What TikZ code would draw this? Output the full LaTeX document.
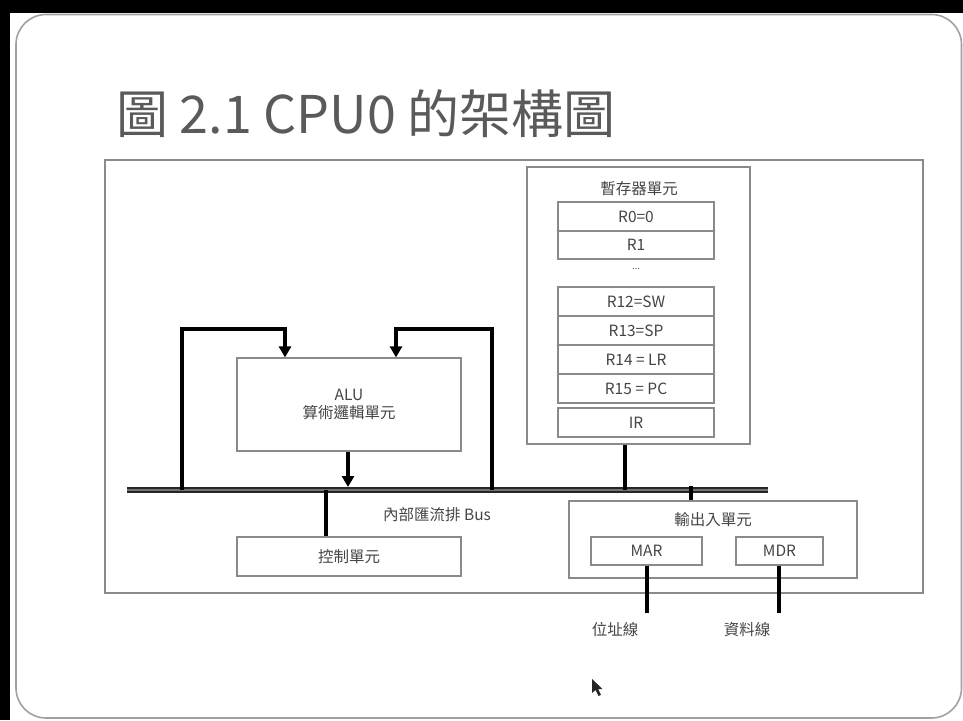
\documentclass[tikz,border=0pt]{standalone}
\usepackage{fontspec}
\setmainfont{Noto Sans CJK TC}
\usetikzlibrary{arrows.meta,calc}
\definecolor{frameg}{HTML}{8A8A8A}
\definecolor{textg}{HTML}{454545}
\definecolor{titleg}{HTML}{5A5A5A}
\tikzset{
  box/.style={draw=frameg, line width=1.2pt, inner sep=0pt, text=textg,
    font=\fontsize{15.5}{18}\selectfont, align=center},
  lbl/.style={inner sep=0pt, text=textg, font=\fontsize{15.5}{18}\selectfont, align=center},
  conn/.style={line width=3.4pt, black},
  tip/.style={-{Triangle[length=11pt,width=12pt]}},
}
\begin{document}
\begin{tikzpicture}[x=1pt,y=-1pt]
\useasboundingbox (0,0) rectangle (963,720);
% screen background and slide
\fill[black] (0,0) rectangle (963,720);
\fill[white] (10,13) rectangle (963,720);
\draw[frameg!80, line width=1.6pt, rounded corners=30pt] (16,14.5) rectangle (961.5,718);
% title
\node[anchor=west, inner sep=0pt, text=titleg, font=\fontsize{52}{56}\selectfont] (title) at (116,114) {圖 2.1 CPU0 的架構圖};
% outer frame
\node[box, minimum width=818pt, minimum height=433pt] (outer) at (514,376.5) {};
% register unit
\node[box, minimum width=223pt, minimum height=277pt] (reg) at (638.5,305.5) {};
\node[lbl] (regt) at (639,189) {暫存器單元};
\node[box, minimum width=156pt, minimum height=29pt] (r0) at (636,216.5) {R0=0};
\node[box, minimum width=156pt, minimum height=28pt] (r1) at (636,245) {R1};
\node[lbl, font=\fontsize{9}{10}\selectfont] (dots) at (636,269) {...};
\node[box, minimum width=156pt, minimum height=29pt] (r12) at (636,301.5) {R12=SW};
\node[box, minimum width=156pt, minimum height=29pt] (r13) at (636,330.5) {R13=SP};
\node[box, minimum width=156pt, minimum height=29pt] (r14) at (636,359.5) {R14 = LR};
\node[box, minimum width=156pt, minimum height=29pt] (r15) at (636,388.5) {R15 = PC};
\node[box, minimum width=156pt, minimum height=29pt] (ir) at (636,422.5) {IR};
% ALU
\node[box, minimum width=224pt, minimum height=93pt] (alu) at (349,404.5) {ALU\\[0pt]算術邏輯單元};
% control unit
\node[box, minimum width=224pt, minimum height=39pt] (ctrl) at (349,556.5) {控制單元};
% I/O unit
\node[box, minimum width=288pt, minimum height=77pt] (io) at (713,539.5) {};
\node[lbl] (iot) at (713,520) {輸出入單元};
\node[box, minimum width=111pt, minimum height=28pt] (mar) at (646.5,551) {MAR};
\node[box, minimum width=87pt, minimum height=28pt] (mdr) at (779.5,551) {MDR};
% bus
\coordinate (busL) at (127,490);
\coordinate (busR) at (768,490);
\draw[line width=2.6pt, draw=black!85, double=black!55, double distance=1.5pt] (busL) -- (busR);
\node[lbl] (busl) at (437,515) {內部匯流排 Bus};
% bus taps
\coordinate (bA) at (182,490);
\coordinate (bB) at (492,490);
\coordinate (bC) at (348,487);
\coordinate (bD) at (326,490);
\coordinate (bE) at (625,490);
\coordinate (bF) at (691,486);
\coordinate (ltop) at (285,329);
\coordinate (rtop) at (396,329);
\coordinate (addr) at (647,613);
\coordinate (data) at (779,613);
% connectors
\draw[conn, tip] (bA) |- (ltop) -- (alu.north -| ltop);
\draw[conn, tip] (bB) |- (rtop) -- (alu.north -| rtop);
\draw[conn, tip] (alu.south -| bC) -- (bC);
\draw[conn] (bD) -- (ctrl.north -| bD);
\draw[conn] (reg.south -| bE) -- (bE);
\draw[conn] (bF) -- (io.north -| bF);
\draw[conn] (mar.south -| addr) -- (addr);
\draw[conn] (mdr.south -| data) -- (data);
\node[lbl] (addrl) at (615,630) {位址線};
\node[lbl] (datal) at (747,630) {資料線};
% mouse pointer
\fill[black!85] (592,679) -- (592,693) -- (595.5,690) -- (598.5,696) -- (601,694.8) -- (598,689) -- (602.5,689) -- cycle;
\end{tikzpicture}
\end{document}
